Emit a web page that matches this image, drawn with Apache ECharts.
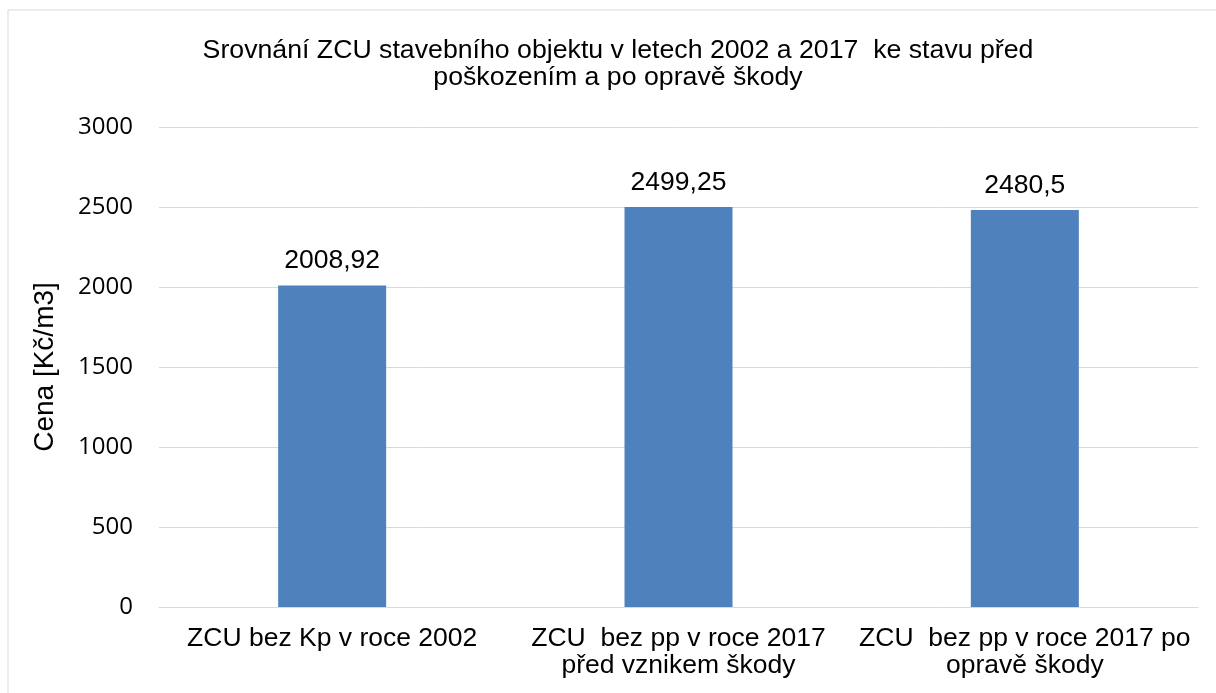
<!DOCTYPE html>
<html>
<head>
<meta charset="utf-8">
<script src="https://cdn.jsdelivr.net/npm/echarts@6/dist/echarts.min.js"></script>
<style>
  html, body { margin: 0; padding: 0; background: #fff; }
  #chart { width: 1216px; height: 693px; }
</style>
</head>
<body>
<div id="chart"></div>
<script>
// data
const categories = [
  'ZCU bez Kp v roce 2002',
  'ZCU  bez pp v roce 2017\npřed vznikem škody',
  'ZCU  bez pp v roce 2017 po\nopravě škody'
];
const prices = [2008.92, 2499.25, 2480.5];
const yTicks = [0, 500, 1000, 1500, 2000, 2500, 3000];

const chart = echarts.init(document.getElementById('chart'), null, { renderer: 'canvas' });
const font = '"Liberation Sans", Arial, sans-serif';

chart.setOption({
  animation: false,
  backgroundColor: '#fff',
  title: {
    text: 'Srovnání ZCU stavebního objektu v letech 2002 a 2017  ke stavu před\npoškozením a po opravě škody',
    left: 618,
    top: 37,
    padding: 0,
    textAlign: 'center',
    textStyle: { fontFamily: font, fontSize: 26.7, fontWeight: 'normal', color: '#000', lineHeight: 27 }
  },
  graphic: [{
    type: 'rect',
    shape: { x: 8, y: 10, width: 1400, height: 900 },
    style: { fill: 'none', stroke: '#d9d9d9', lineWidth: 1 },
    silent: true
  }],
  grid: { left: 159, right: 18, top: 127, bottom: 86 },
  xAxis: {
    type: 'category',
    data: categories,
    axisLine: { lineStyle: { color: '#d9d9d9' } },
    axisTick: { show: false },
    axisLabel: {
      interval: 0,
      margin: 18,
      fontFamily: font,
      fontSize: 26.5,
      lineHeight: 27,
      color: '#000',
      align: 'center'
    }
  },
  yAxis: {
    type: 'value',
    min: yTicks[0],
    max: yTicks[yTicks.length - 1],
    interval: 500,
    name: 'Cena [Kč/m3]',
    nameLocation: 'middle',
    nameGap: 100,
    nameTextStyle: { fontFamily: font, fontSize: 28, color: '#000' },
    axisLine: { show: false },
    axisTick: { show: false },
    axisLabel: {
      margin: 26,
      fontFamily: '"Open Sans", sans-serif',
      fontSize: 24,
      color: '#000',
      formatter: v => String(v)
    },
    splitLine: { lineStyle: { color: '#d9d9d9', width: 1 } }
  },
  series: [{
    type: 'bar',
    data: prices,
    barWidth: 108,
    itemStyle: { color: '#4f81bd' },
    label: {
      show: true,
      position: 'top',
      distance: 11,
      fontFamily: font,
      fontSize: 26.5,
      lineHeight: 27,
      color: '#000',
      formatter: p => String(p.value).replace('.', ',')
    }
  }]
});
</script>
</body>
</html>
